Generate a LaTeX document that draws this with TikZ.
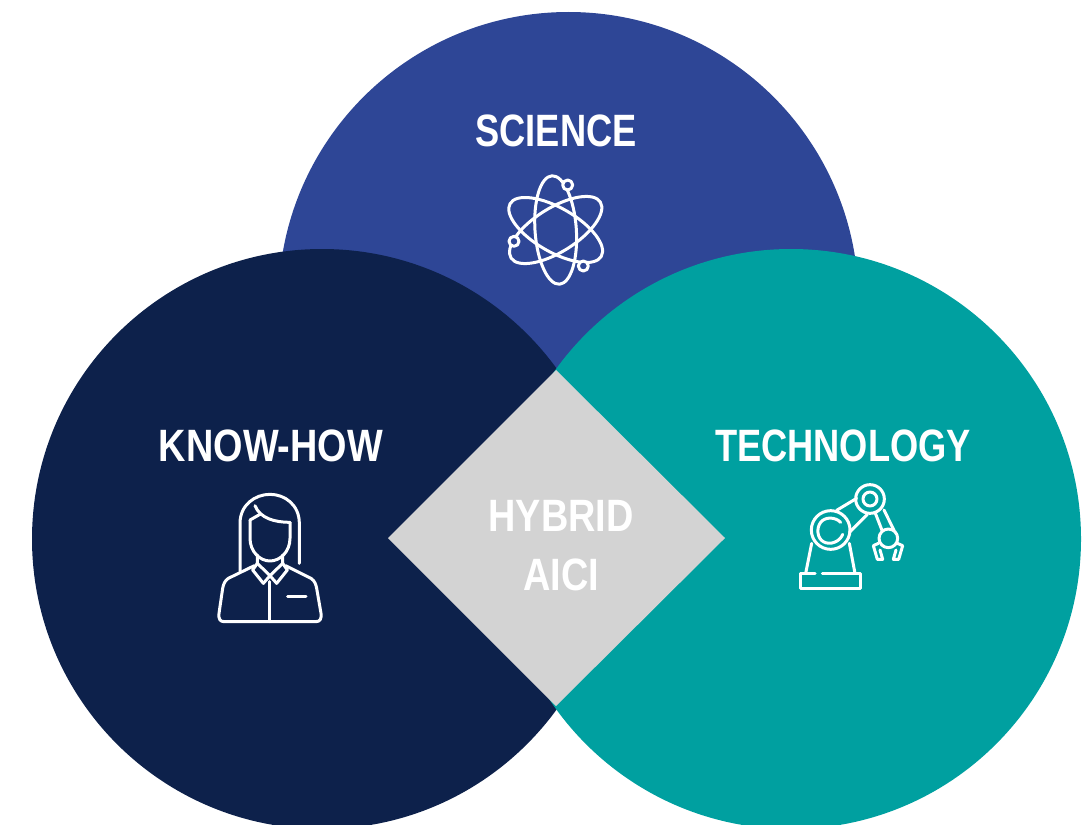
\documentclass[tikz,border=0pt]{standalone}
\usepackage{fontspec}
\newfontfamily\lab[FakeStretch=0.80]{Liberation Sans Bold}
\newfontfamily\labw[FakeStretch=0.835]{Liberation Sans Bold}
\definecolor{sciblue}{HTML}{2E4696}
\definecolor{navy}{HTML}{0D214B}
\definecolor{teal}{HTML}{00A0A0}
\definecolor{diam}{HTML}{D3D3D3}
\tikzset{
  lbl/.style={text=white,font=\lab\fontsize{34}{38}\selectfont,inner sep=0pt,align=center},
  lblw/.style={lbl,font=\labw\fontsize{34}{38}\selectfont},
  icon/.style={draw=white,line width=2.25pt,line cap=round,line join=round},
}
\begin{document}
\begin{tikzpicture}[x=0.75pt,y=-0.75pt]
\useasboundingbox (0,0) rectangle (1084,824);
\begin{scope}
\clip (0,0) rectangle (1084,824);
\fill[sciblue] (568.5,302) circle[radius=290];
\fill[navy] (322,539) circle[radius=290];
\fill[teal] (791,539) circle[radius=290];
\fill[diam] (556,370) -- (725,538) -- (556,706) -- (388,538) -- cycle;
\end{scope}
\node[lbl] (science) at (556,131) {SCIENCE};
\node[lblw] (knowhow) at (271,446) {KNOW-HOW};
\node[lbl] (technology) at (843,446) {TECHNOLOGY};
\node[lblw] (hybrid) at (561,516) {HYBRID};
\node[lblw] (aici) at (561,575) {AICI};
% atom
\begin{scope}[shift={(490,165)},x=0.25pt,y=-0.25pt]
\coordinate (ac) at (197,195);
\draw[icon,rotate around={4:(ac)}] (ac) ellipse[x radius=62,y radius=163];
\draw[icon,rotate around={60:(ac)}] (ac) ellipse[x radius=66,y radius=158];
\draw[icon,rotate around={-58:(ac)}] (ac) ellipse[x radius=66,y radius=158];
\draw[icon,fill=sciblue] (233,60) circle[radius=15];
\draw[icon,fill=sciblue] (72,229) circle[radius=15];
\draw[icon,fill=sciblue] (280,303) circle[radius=15];
\end{scope}
% person
\begin{scope}[shift={(205,485)},x=0.25pt,y=-0.25pt]
\draw[icon] (105,258) -- (105,115) .. controls (105,60) and (150,28) .. (195,28) .. controls (240,28) and (283,60) .. (283,115) -- (283,235);
\draw[icon] (135,105) -- (135,160) .. controls (135,200) and (165,228) .. (195,228) .. controls (225,228) and (255,200) .. (255,160) -- (255,112);
\draw[icon] (150,62) .. controls (165,100) and (210,112) .. (255,112);
\draw[icon] (135,105) -- (165,88);
\draw[icon] (157,210) -- (157,235) -- (195,272) -- (233,235) -- (233,210);
\draw[icon] (157,235) -- (143,255) -- (175,295) -- (195,272) -- (215,295) -- (247,255) -- (233,235);
\draw[icon] (148,242) -- (70,280) .. controls (58,288) and (55,300) .. (53,310) -- (42,385) .. controls (40,402) and (45,410) .. (58,410) -- (332,410) .. controls (345,410) and (350,402) .. (348,385) -- (335,310) .. controls (333,300) and (330,288) .. (318,280) -- (242,242);
\draw[icon] (193,290) -- (193,410);
\draw[icon] (248,333) -- (303,333);
\end{scope}
% robot
\begin{scope}[shift={(790,475)},x=0.25pt,y=-0.25pt]
\draw[icon] (122,165) circle[radius=58];
\draw[icon] (152,142) .. controls (135,125) and (105,125) .. (92,142) .. controls (78,160) and (82,190) .. (100,200) .. controls (120,212) and (150,200) .. (158,178);
\draw[icon] (240,72) circle[radius=43];
\draw[icon] (240,72) circle[radius=21];
\draw[icon] (295,190) circle[radius=28];
\draw[icon] (140,106) -- (200,70);
\draw[icon] (178,172) -- (232,118);
\draw[icon] (255,112) -- (276,166);
\draw[icon] (282,105) -- (312,166);
\draw[icon] (65,205) -- (47,295);
\draw[icon] (178,205) -- (195,295);
\draw[icon] (75,295) -- (30,295) -- (30,340) -- (212,340) -- (212,295) -- (97,295);
\draw[icon] (265,205) -- (250,212) -- (262,253) -- (278,253) -- (270,225);
\draw[icon] (322,205) -- (338,212) -- (326,253) -- (310,253) -- (318,225);
\end{scope}
\end{tikzpicture}
\end{document}
